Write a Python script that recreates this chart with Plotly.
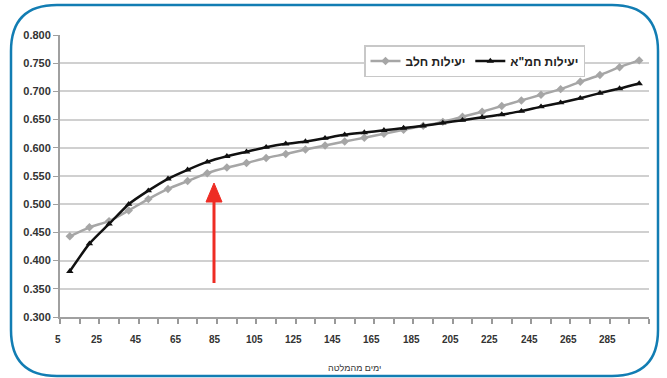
import plotly.graph_objects as go

# ---- data ----
days = list(range(5, 300, 10))
milk_eff = [0.443, 0.459, 0.470, 0.489, 0.509, 0.527, 0.541, 0.555, 0.565, 0.573,
            0.582, 0.589, 0.597, 0.604, 0.611, 0.618, 0.625, 0.632, 0.639, 0.646,
            0.655, 0.664, 0.674, 0.684, 0.694, 0.704, 0.717, 0.729, 0.743, 0.755]
fat_eff = [0.381, 0.430, 0.465, 0.500, 0.524, 0.545, 0.561, 0.575, 0.585, 0.593,
           0.601, 0.607, 0.611, 0.617, 0.623, 0.627, 0.631, 0.635, 0.639, 0.644,
           0.649, 0.654, 0.659, 0.665, 0.673, 0.680, 0.688, 0.697, 0.705, 0.714]
x_tick_vals = list(range(5, 300, 20))
x_tick_text = [str(v) for v in x_tick_vals]
x_minor_vals = list(range(0, 301, 10))
name_milk = "יעילות חלב"
name_fat = 'יעילות חמ"א'
x_title = "ימים מהמלטה"

# ---- layout geometry (pixels) ----
W, H = 667, 378
L, R, T, B = 60, 18, 35, 61
PW, PH = W - L - R, H - T - B

def px(x):
    return (x - L) / PW

def py(y):
    return (H - B - y) / PH

FONT = "Liberation Sans, Arial, sans-serif"

fig = go.Figure()
fig.add_trace(go.Scatter(
    x=days, y=milk_eff, name=name_milk, mode="lines+markers",
    line=dict(color="#a6a6a6", width=2.5, shape="spline", smoothing=0.6),
    marker=dict(symbol="diamond", size=6.5, color="#a6a6a6"),
))
fig.add_trace(go.Scatter(
    x=days, y=fat_eff, name=name_fat, mode="lines+markers",
    line=dict(color="#111111", width=2.5, shape="spline", smoothing=0.6),
    marker=dict(symbol="triangle-up", size=6.5, color="#111111"),
))

# rounded outer frame
x0, x1, y0, y1, r = 11, 658, 5, 376, 46
path = (f"M {px(x0 + r)},{py(y0)} L {px(x1 - r)},{py(y0)} "
        f"Q {px(x1)},{py(y0)} {px(x1)},{py(y0 + r)} "
        f"L {px(x1)},{py(y1 - r)} Q {px(x1)},{py(y1)} {px(x1 - r)},{py(y1)} "
        f"L {px(x0 + r)},{py(y1)} Q {px(x0)},{py(y1)} {px(x0)},{py(y1 - r)} "
        f"L {px(x0)},{py(y0 + r)} Q {px(x0)},{py(y0)} {px(x0 + r)},{py(y0)} Z")
shapes = [dict(type="path", xref="paper", yref="paper", path=path,
               line=dict(color="#127db3", width=2.5))]

# red arrow
ax, tip_y, tail_y, hw, hh = 214, 183, 283, 8, 19
shapes.append(dict(type="line", xref="paper", yref="paper",
                   x0=px(ax), x1=px(ax), y0=py(tail_y), y1=py(tip_y + hh - 1),
                   line=dict(color="#ee2c24", width=3)))
shapes.append(dict(type="path", xref="paper", yref="paper",
                   path=(f"M {px(ax)},{py(tip_y)} L {px(ax - hw)},{py(tip_y + hh)} "
                         f"L {px(ax + hw)},{py(tip_y + hh)} Z"),
                   fillcolor="#ee2c24", line=dict(color="#ee2c24", width=1)))

# x tick labels as annotations (placed where the reference's labels sit)
annotations = [dict(
    text=x_title, xref="paper", yref="paper", x=0.5, y=py(368),
    xanchor="center", yanchor="middle", showarrow=False,
    font=dict(family=FONT, size=9, color="#333333"),
)]
for v, t in zip(x_tick_vals, x_tick_text):
    annotations.append(dict(
        text=t, x=v, xref="x", y=py(339), yref="paper",
        xanchor="center", yanchor="middle", xshift=-12,
        showarrow=False, borderpad=0,
        font=dict(family=FONT, size=10, color="#333333", weight="bold"),
    ))

fig.update_layout(
    width=W, height=H,
    margin=dict(l=L, r=R, t=T, b=B),
    paper_bgcolor="white", plot_bgcolor="white",
    font=dict(family=FONT, color="#333333"),
    shapes=shapes,
    annotations=annotations,
    showlegend=True,
    legend=dict(
        orientation="h", x=px(364), y=py(45), xanchor="left", yanchor="top",
        bgcolor="white", bordercolor="#c8c8c8", borderwidth=1.5,
        font=dict(family=FONT, size=12, color="#222222", weight="bold"),
        itemwidth=30, tracegroupgap=0,
    ),
    xaxis=dict(
        range=[0, 300], tickmode="array", tickvals=x_minor_vals,
        showticklabels=False, ticks="outside", ticklen=5, tickcolor="#999999",
        tickwidth=1.5, showgrid=False, zeroline=False,
        showline=True, linecolor="#a0a0a0", linewidth=2,
    ),
    yaxis=dict(
        range=[0.3, 0.8], dtick=0.05, tick0=0.3, tickformat=".3f",
        showgrid=True, gridcolor="#d0d0d0", gridwidth=1.5, zeroline=False,
        showline=True, linecolor="#a0a0a0", linewidth=2,
        ticks="outside", ticklen=5, tickcolor="#a0a0a0",
        tickfont=dict(family=FONT, size=11, color="#333333", weight="bold"),
    ),
)

fig.write_html("out.html")
